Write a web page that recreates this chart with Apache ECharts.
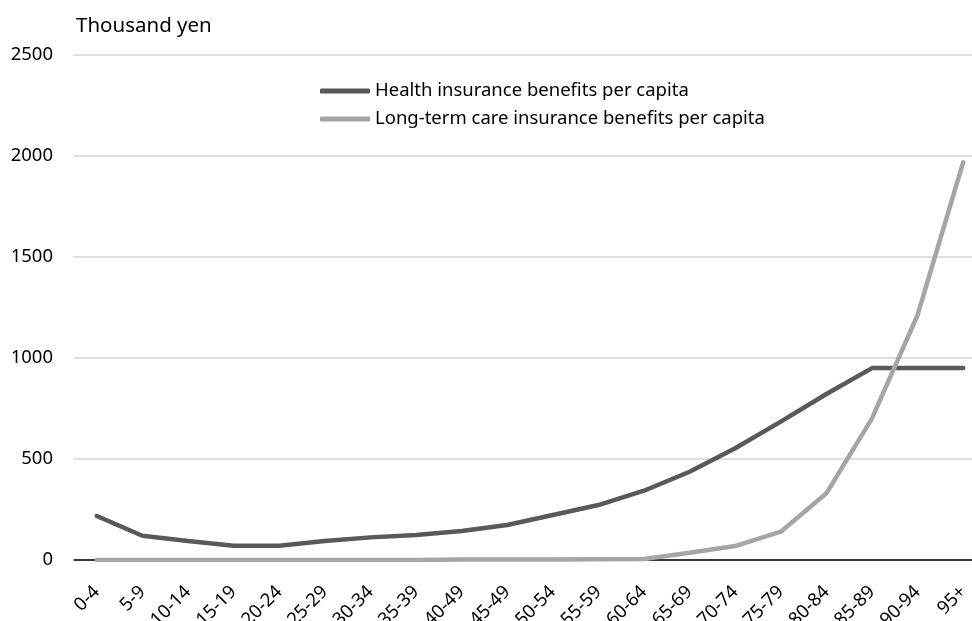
<!DOCTYPE html>
<html>
<head>
<meta charset="utf-8">
<script src="https://cdn.jsdelivr.net/npm/echarts@6/dist/echarts.min.js"></script>
<style>
  html, body { margin: 0; padding: 0; background: #fff; }
  #chart { width: 972px; height: 621px; }
</style>
</head>
<body>
<div id="chart"></div>
<script>
// Age groups (x axis)
const ageGroups = ['0-4', '5-9', '10-14', '15-19', '20-24', '25-29', '30-34', '35-39', '40-49', '45-49',
  '50-54', '55-59', '60-64', '65-69', '70-74', '75-79', '80-84', '85-89', '90-94', '95+'];

// Benefits per capita, thousand yen
const healthBenefits = [218, 120, 94, 71, 71, 94, 112, 124, 144, 173,
  223, 272, 343, 437, 553, 685, 822, 950, 950, 950];
const careBenefits = [0, 0, 0, 0, 0, 0, 0, 0, 2, 3,
  3, 4, 5, 36, 69, 140, 330, 701, 1213, 1969];

const yTicks = { min: 0, max: 2500, interval: 500 };

const FONT = 'Noto Sans';
const FS = 18.5;
const chart = echarts.init(document.getElementById('chart'));

chart.setOption({
  animation: false,
  textStyle: { fontFamily: FONT },
  grid: { left: 74, top: 55, width: 912, height: 505, containLabel: false, outerBoundsMode: 'none' },
  legend: {
    orient: 'vertical',
    left: 315,
    top: 76,
    itemWidth: 50,
    itemHeight: 5,
    itemGap: 8,
    icon: 'roundRect',
    textStyle: { fontFamily: FONT, fontSize: FS, color: '#000', lineHeight: 20 },
    data: ['Health insurance benefits per capita', 'Long-term care insurance benefits per capita']
  },
  xAxis: {
    type: 'category',
    data: ageGroups,
    boundaryGap: true,
    axisLine: { lineStyle: { color: '#000', width: 1.5 } },
    axisTick: { show: false },
    axisLabel: { rotate: 45, margin: 29, color: '#000', fontSize: FS, fontFamily: FONT, interval: 0 }
  },
  yAxis: {
    type: 'value',
    min: yTicks.min,
    max: yTicks.max,
    interval: yTicks.interval,
    name: 'Thousand yen',
    nameLocation: 'end',
    nameGap: 18,
    nameTextStyle: { align: 'left', color: '#000', fontSize: 20.5, fontFamily: FONT, padding: [0, 0, 0, 2] },
    axisLine: { show: false },
    axisTick: { show: false },
    axisLabel: { margin: 21, color: '#000', fontSize: FS, fontFamily: FONT, formatter: (v) => String(v) },
    splitLine: { lineStyle: { color: '#d4d4d4', width: 1.5 } }
  },
  series: [
    {
      name: 'Health insurance benefits per capita',
      type: 'line',
      data: healthBenefits,
      symbol: 'none',
      color: '#595959',
      lineStyle: { width: 4.5, color: '#595959', cap: 'round' },
      z: 3
    },
    {
      name: 'Long-term care insurance benefits per capita',
      type: 'line',
      data: careBenefits,
      symbol: 'none',
      color: '#a5a5a5',
      lineStyle: { width: 4.5, color: '#a5a5a5', cap: 'round' },
      z: 4
    }
  ]
});
</script>
</body>
</html>
